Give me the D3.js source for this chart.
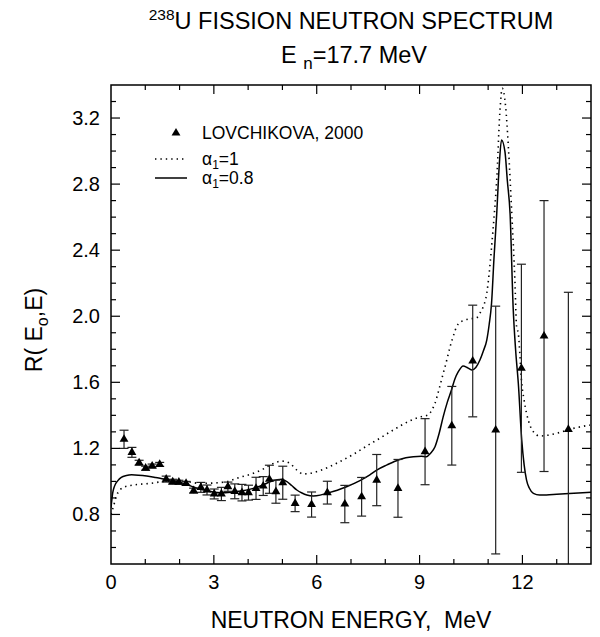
<!DOCTYPE html>
<html><head><meta charset="utf-8">
<script src="https://cdn.jsdelivr.net/npm/d3@7/dist/d3.min.js"></script>
<style>body{margin:0;background:#fff}svg{display:block}text{font-family:"Liberation Sans",Arial,Helvetica,sans-serif;fill:#000}</style>
</head><body><svg id="c" width="600" height="637"></svg>
<script>
// experimental points (LOVCHIKOVA, 2000)
const expE = [0.38,0.61,0.82,1.01,1.2,1.42,1.61,1.8,1.98,2.19,2.41,2.62,2.8,3.01,3.22,3.41,3.61,3.82,4.01,4.23,4.44,4.62,4.81,5.01,5.37,5.85,6.31,6.82,7.31,7.75,8.37,9.16,9.94,10.55,11.22,11.97,12.63,13.34];
const expR = [1.255,1.176,1.113,1.08,1.093,1.103,1.014,0.998,0.995,0.988,0.944,0.964,0.948,0.924,0.924,0.968,0.94,0.932,0.932,0.958,0.972,1.013,0.938,0.992,0.867,0.86,0.932,0.863,0.907,1.008,0.958,1.18,1.337,1.729,1.311,1.685,1.88,1.315];
const expErr = [0.055,0.03,0.015,0.012,0.012,0.012,0.018,0.015,0.012,0.012,0.015,0.03,0.03,0.03,0.04,0.028,0.045,0.05,0.045,0.067,0.057,0.085,0.07,0.1,0.05,0.076,0.069,0.113,0.117,0.155,0.175,0.2,0.238,0.338,0.75,0.63,0.82,0.83];
// alpha1 = 0.8 (solid)
const solidE = [0,0.05,0.1,0.2,0.3,0.45,0.6,0.8,1.04,1.3,1.53,1.8,2.01,2.2,2.4,2.7,3.0,3.2,3.5,3.8,4.15,4.4,4.64,4.85,4.98,5.12,5.27,5.42,5.57,5.71,5.9,6.1,6.29,6.6,6.87,7.26,7.55,7.75,8.05,8.38,8.6,8.82,9.05,9.2,9.32,9.45,9.57,9.69,9.81,9.93,10.03,10.13,10.27,10.4,10.52,10.64,10.76,10.86,10.96,11.03,11.1,11.17,11.25,11.32,11.39,11.49,11.56,11.64,11.73,11.8,11.88,11.98,12.05,12.12,12.2,12.32,12.5,12.7,13.0,13.5,14.0];
const solidR = [0.84,0.93,0.97,1.005,1.025,1.036,1.04,1.038,1.033,1.024,1.015,1.005,0.995,0.982,0.966,0.948,0.935,0.932,0.935,0.942,0.958,0.975,0.998,1.01,1.013,1.0,0.975,0.948,0.93,0.918,0.912,0.917,0.928,0.947,0.968,1.005,1.04,1.069,1.1,1.13,1.143,1.15,1.153,1.15,1.17,1.21,1.29,1.392,1.48,1.553,1.62,1.664,1.699,1.688,1.675,1.69,1.735,1.79,1.856,1.95,2.08,2.35,2.62,2.9,3.067,2.996,2.82,2.62,2.05,1.8,1.594,1.25,1.1,1.008,0.96,0.928,0.918,0.918,0.922,0.928,0.934];
// alpha1 = 1 (dotted)
const dotE = [0,0.07,0.17,0.36,0.65,1.14,1.62,2.2,2.6,2.98,3.18,3.41,3.67,4.15,4.4,4.64,4.85,4.98,5.1,5.22,5.32,5.42,5.52,5.61,5.8,6.09,6.58,7.07,7.55,7.75,8.23,8.72,9.0,9.25,9.35,9.45,9.57,9.69,9.8,9.89,10.0,10.08,10.2,10.32,10.5,10.66,10.76,10.86,10.96,11.03,11.1,11.18,11.25,11.34,11.41,11.51,11.59,11.69,11.78,11.83,11.88,11.98,12.05,12.12,12.22,12.32,12.51,12.75,12.99,13.48,13.97];
const dotR = [0.8,0.847,0.918,0.964,0.978,0.988,1.0,0.998,0.988,0.99,0.993,1.0,1.019,1.049,1.07,1.099,1.118,1.123,1.12,1.109,1.09,1.069,1.052,1.045,1.049,1.065,1.11,1.164,1.226,1.25,1.311,1.367,1.39,1.402,1.43,1.473,1.56,1.654,1.74,1.815,1.89,1.937,1.965,1.977,1.985,1.99,2.018,2.06,2.139,2.26,2.42,2.62,2.825,3.228,3.38,3.268,3.026,2.62,2.219,1.937,1.896,1.594,1.49,1.412,1.34,1.3,1.275,1.28,1.291,1.321,1.341];
const xMajor = [0,3,6,9,12];
const yMajor = [0.8,1.2,1.6,2.0,2.4,2.8,3.2];

const svg = d3.select("#c");
const L=111, R=591, T=85, B=564;
const x = d3.scaleLinear().domain([0,14]).range([L,R]);
const y = d3.scaleLinear().domain([0.5,3.4]).range([B,T]);

svg.append("defs").append("clipPath").attr("id","clip").append("rect")
  .attr("x",L).attr("y",T).attr("width",R-L).attr("height",B-T);
const plot = svg.append("g").attr("clip-path","url(#clip)");

const line = d3.line().x(d=>x(d[0])).y(d=>y(d[1])).curve(d3.curveMonotoneX);
plot.append("path").datum(dotE.map((e,i)=>[e,dotR[i]]))
  .attr("d",line).attr("fill","none").attr("stroke","#000").attr("stroke-width",1.6)
  .attr("stroke-dasharray","1.4,4").attr("stroke-linecap","butt");
plot.append("path").datum(solidE.map((e,i)=>[e,solidR[i]]))
  .attr("d",line).attr("fill","none").attr("stroke","#000").attr("stroke-width",1.5);

const pts = expE.map((e,i)=>({e, r:expR[i], s:expErr[i]}));
const eb = plot.append("g").attr("stroke","#222").attr("stroke-width",1.2);
pts.forEach(p=>{
  eb.append("line").attr("x1",x(p.e)).attr("x2",x(p.e)).attr("y1",y(p.r-p.s)).attr("y2",y(p.r+p.s));
  [p.r-p.s,p.r+p.s].forEach(v=>eb.append("line").attr("x1",x(p.e)-4.5).attr("x2",x(p.e)+4.5).attr("y1",y(v)).attr("y2",y(v)));
});
const tri = d3.symbol().type(d3.symbolTriangle).size(34);
plot.selectAll("path.pt").data(pts).enter().append("path").attr("class","pt")
  .attr("d",tri).attr("transform",p=>`translate(${x(p.e)},${y(p.r)})`).attr("fill","#000");

// frame and ticks
const ax = svg.append("g").attr("stroke","#000");
ax.append("rect").attr("x",L).attr("y",T).attr("width",R-L).attr("height",B-T).attr("fill","none").attr("stroke-width",1.5);
d3.range(1,14).forEach(t=>{
  const len = xMajor.includes(t)?9:5;
  ax.append("line").attr("x1",x(t)).attr("x2",x(t)).attr("y1",B).attr("y2",B-len).attr("stroke-width",1.2);
  ax.append("line").attr("x1",x(t)).attr("x2",x(t)).attr("y1",T).attr("y2",T+len).attr("stroke-width",1.2);
});
d3.range(6,34).map(v=>v/10).forEach(t=>{
  const maj = yMajor.some(m=>Math.abs(m-t)<1e-6);
  const len = maj?9:5;
  ax.append("line").attr("x1",L).attr("x2",L+len).attr("y1",y(t)).attr("y2",y(t)).attr("stroke-width",1.2);
  ax.append("line").attr("x1",R).attr("x2",R-len).attr("y1",y(t)).attr("y2",y(t)).attr("stroke-width",1.2);
});
svg.append("g").selectAll("text").data(xMajor).enter().append("text")
  .attr("x",d=>x(d)).attr("y",589).attr("text-anchor","middle").attr("font-size",20).text(d=>d);
svg.append("g").selectAll("text").data(yMajor).enter().append("text")
  .attr("x",100).attr("y",d=>y(d)+7).attr("text-anchor","end").attr("font-size",20).text(d=>d.toFixed(1));

// titles
const t1 = svg.append("text").attr("x",351).attr("y",29).attr("text-anchor","middle").attr("font-size",23.5);
t1.append("tspan").attr("font-size",15.5).attr("dy",-9).text("238");
t1.append("tspan").attr("dy",9).text("U FISSION NEUTRON SPECTRUM");
const t2 = svg.append("text").attr("x",354).attr("y",63).attr("text-anchor","middle").attr("font-size",23.5);
t2.append("tspan").text("E ");
t2.append("tspan").attr("font-size",17).attr("dy",6).text("n");
t2.append("tspan").attr("dy",-6).text("=17.7 MeV");
svg.append("text").attr("x",351).attr("y",628).attr("text-anchor","middle").attr("font-size",23)
  .attr("xml:space","preserve").style("white-space","pre").text("NEUTRON ENERGY,  MeV");
const yl = svg.append("text").attr("transform","translate(42,330) rotate(-90)").attr("text-anchor","middle").attr("font-size",23);
yl.append("tspan").text("R( E");
yl.append("tspan").attr("font-size",16).attr("dy",6).text("o");
yl.append("tspan").attr("dy",-6).text(",E)");

// legend
const lg = svg.append("g");
lg.append("path").attr("d",tri).attr("transform","translate(176,133)").attr("fill","#000");
lg.append("text").attr("x",202).attr("y",139).attr("font-size",17.5).text("LOVCHIKOVA, 2000");
lg.append("line").attr("x1",155).attr("x2",187).attr("y1",159).attr("y2",159).attr("stroke","#000").attr("stroke-width",1.6).attr("stroke-dasharray","1.4,4");
lg.append("line").attr("x1",155).attr("x2",187).attr("y1",178).attr("y2",178).attr("stroke","#000").attr("stroke-width",1.5);
const a1 = lg.append("text").attr("x",202).attr("y",165).attr("font-size",17.5);
a1.append("tspan").text("α");
a1.append("tspan").attr("font-size",12).attr("dy",4).text("1");
a1.append("tspan").attr("dy",-4).text("=1");
const a2 = lg.append("text").attr("x",202).attr("y",184).attr("font-size",17.5);
a2.append("tspan").text("α");
a2.append("tspan").attr("font-size",12).attr("dy",4).text("1");
a2.append("tspan").attr("dy",-4).text("=0.8");
</script></body></html>
